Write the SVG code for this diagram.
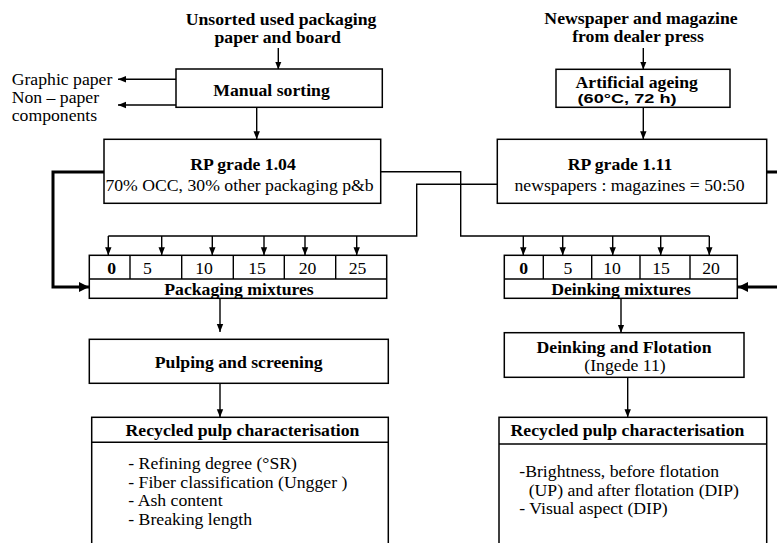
<svg xmlns="http://www.w3.org/2000/svg" width="777" height="543" viewBox="0 0 777 543">
<defs>
<style>
.t{font-family:"Liberation Serif","Times New Roman",serif;font-size:17.7px;fill:#000}
.s{font-family:"Liberation Sans",Arial,sans-serif;font-weight:bold;font-size:12px;fill:#000}
.bo{font-weight:bold}
.m{text-anchor:middle}
.box{fill:#fff;stroke:#000;stroke-width:1.5}
.ln{fill:none;stroke:#000;stroke-width:1.4}
.ar{fill:none;stroke:#000;stroke-width:1.4;marker-end:url(#ah)}
.thk{fill:none;stroke:#000;stroke-width:3;marker-end:url(#ahb)}
.thn{fill:none;stroke:#000;stroke-width:3}
</style>
<marker id="ah" viewBox="0 0 10 10" refX="10" refY="5" markerWidth="8" markerHeight="8" markerUnits="userSpaceOnUse" orient="auto"><path d="M0,1 L10,5 L0,9 z" fill="#000"/></marker>
<marker id="ahb" viewBox="0 0 10 10" refX="10" refY="5" markerWidth="10" markerHeight="10" markerUnits="userSpaceOnUse" orient="auto"><path d="M0,0 L10,5 L0,10 z" fill="#000"/></marker>
</defs>
<rect width="777" height="543" fill="#fff"/>

<g id="connectors">
<line class="ar" x1="278.3" y1="48" x2="278.3" y2="69.5"/>
<line class="ar" x1="176" y1="79.3" x2="118" y2="79.3"/>
<line class="ar" x1="176" y1="105" x2="118" y2="105"/>
<line class="ar" x1="256.7" y1="107.3" x2="256.7" y2="139.3"/>
<line class="ar" x1="643.3" y1="48" x2="643.3" y2="69.5"/>
<line class="ar" x1="643.3" y1="107.3" x2="643.3" y2="139.3"/>
<path class="thk" d="M104,172 H53 V287 H89"/>
<path class="thn" d="M767,172 H790"/>
<path class="thk" d="M790,287 H738"/>
<path class="ln" d="M497.3,184.3 H416.7 V236 H108.3"/>
<line class="ar" x1="108.3" y1="236" x2="108.3" y2="255.3"/>
<line class="ar" x1="161.7" y1="236" x2="161.7" y2="255.3"/>
<line class="ar" x1="212.3" y1="236" x2="212.3" y2="255.3"/>
<line class="ar" x1="264" y1="236" x2="264" y2="255.3"/>
<line class="ar" x1="305" y1="236" x2="305" y2="255.3"/>
<line class="ar" x1="356.7" y1="236" x2="356.7" y2="255.3"/>
<path class="ln" d="M380.7,171.7 H460.7 V236 H709.3"/>
<line class="ar" x1="523.3" y1="236" x2="523.3" y2="255.3"/>
<line class="ar" x1="562.7" y1="236" x2="562.7" y2="255.3"/>
<line class="ar" x1="612.7" y1="236" x2="612.7" y2="255.3"/>
<line class="ar" x1="660.7" y1="236" x2="660.7" y2="255.3"/>
<line class="ar" x1="709.3" y1="236" x2="709.3" y2="255.3"/>
<line class="ar" x1="220" y1="298.3" x2="220" y2="332"/>
<line class="ar" x1="220" y1="383.3" x2="220" y2="417.3"/>
<line class="ar" x1="621" y1="298.3" x2="621" y2="332.7"/>
<line class="ar" x1="627.7" y1="377.3" x2="627.7" y2="417.3"/>
</g>

<g id="title-left">
<text class="t bo m" x="281" y="24.5">Unsorted used packaging</text>
<text class="t bo m" x="277.7" y="43">paper and board</text>
</g>
<g id="title-right">
<text class="t bo m" x="641" y="23.5">Newspaper and magazine</text>
<text class="t bo m" x="638" y="42">from dealer press</text>
</g>
<g id="outputs">
<text class="t" x="11.7" y="85">Graphic paper</text>
<text class="t" x="11.7" y="103">Non – paper</text>
<text class="t" x="11.7" y="121">components</text>
</g>

<g id="manual-sorting">
<rect class="box" x="176" y="69" width="206.3" height="38.3"/>
<text class="t bo m" x="271.5" y="96">Manual sorting</text>
</g>

<g id="artificial-ageing">
<rect class="box" x="556" y="69.3" width="174" height="38"/>
<text class="t bo m" x="636.7" y="88">Artificial ageing</text>
<text class="s m" x="627" y="103" textLength="99" lengthAdjust="spacingAndGlyphs">(60°C, 72 h)</text>
</g>

<g id="rp-104">
<rect class="box" x="104" y="139.3" width="276.7" height="64"/>
<text class="t bo m" x="243" y="170">RP grade 1.04</text>
<text class="t m" x="239.5" y="191">70% OCC, 30% other packaging p&amp;b</text>
</g>

<g id="rp-111">
<rect class="box" x="497.3" y="139.3" width="269.4" height="64"/>
<text class="t bo m" x="620" y="170">RP grade 1.11</text>
<text class="t m" x="629.5" y="191">newspapers : magazines = 50:50</text>
</g>

<g id="packaging-mixtures">
<rect class="box" x="89.3" y="255.3" width="297.4" height="43"/>
<line class="ln" x1="89.3" y1="279" x2="386.7" y2="279"/>
<line class="ln" x1="130" y1="255.3" x2="130" y2="279"/>
<line class="ln" x1="181.7" y1="255.3" x2="181.7" y2="279"/>
<line class="ln" x1="233.3" y1="255.3" x2="233.3" y2="279"/>
<line class="ln" x1="284.3" y1="255.3" x2="284.3" y2="279"/>
<line class="ln" x1="335.7" y1="255.3" x2="335.7" y2="279"/>
<text class="t bo m" x="111.7" y="273.5">0</text>
<text class="t m" x="147.5" y="273.5">5</text>
<text class="t m" x="204" y="273.5">10</text>
<text class="t m" x="257" y="273.5">15</text>
<text class="t m" x="307.5" y="273.5">20</text>
<text class="t m" x="357.5" y="273.5">25</text>
<text class="t bo m" x="239" y="295">Packaging mixtures</text>
</g>

<g id="deinking-mixtures">
<rect class="box" x="504.3" y="255.3" width="233" height="43"/>
<line class="ln" x1="504.3" y1="279" x2="737.3" y2="279"/>
<line class="ln" x1="543.3" y1="255.3" x2="543.3" y2="279"/>
<line class="ln" x1="591.7" y1="255.3" x2="591.7" y2="279"/>
<line class="ln" x1="640" y1="255.3" x2="640" y2="279"/>
<line class="ln" x1="690" y1="255.3" x2="690" y2="279"/>
<text class="t bo m" x="523.7" y="273.5">0</text>
<text class="t m" x="568" y="273.5">5</text>
<text class="t m" x="612" y="273.5">10</text>
<text class="t m" x="661" y="273.5">15</text>
<text class="t m" x="711" y="273.5">20</text>
<text class="t bo m" x="621" y="295">Deinking mixtures</text>
</g>

<g id="pulping">
<rect class="box" x="89.3" y="339.3" width="299" height="44"/>
<text class="t bo m" x="238.7" y="368.3">Pulping and screening</text>
</g>

<g id="deinking-flotation">
<rect class="box" x="504.3" y="332.7" width="239.7" height="44.6"/>
<text class="t bo m" x="624" y="352.7">Deinking and Flotation</text>
<text class="t m" x="625" y="370.5">(Ingede 11)</text>
</g>

<g id="characterisation-left">
<rect class="box" x="91.7" y="417.3" width="296.6" height="140"/>
<line class="ln" x1="91.7" y1="442.3" x2="388.3" y2="442.3"/>
<text class="t bo m" x="242.5" y="435.7">Recycled pulp characterisation</text>
<text class="t" x="128.3" y="469">- Refining degree (°SR)</text>
<text class="t" x="128.3" y="487.5">- Fiber classification (Ungger )</text>
<text class="t" x="128.3" y="506">- Ash content</text>
<text class="t" x="128.3" y="524.5">- Breaking length</text>
</g>

<g id="characterisation-right">
<rect class="box" x="499" y="417.3" width="267.7" height="140"/>
<line class="ln" x1="499" y1="444" x2="766.7" y2="444"/>
<text class="t bo m" x="627.5" y="436">Recycled pulp characterisation</text>
<text class="t" x="519.3" y="477">-Brightness, before flotation</text>
<text class="t" x="528.7" y="495.5">(UP) and after flotation (DIP)</text>
<text class="t" x="519.3" y="514">- Visual aspect (DIP)</text>
</g>
</svg>
